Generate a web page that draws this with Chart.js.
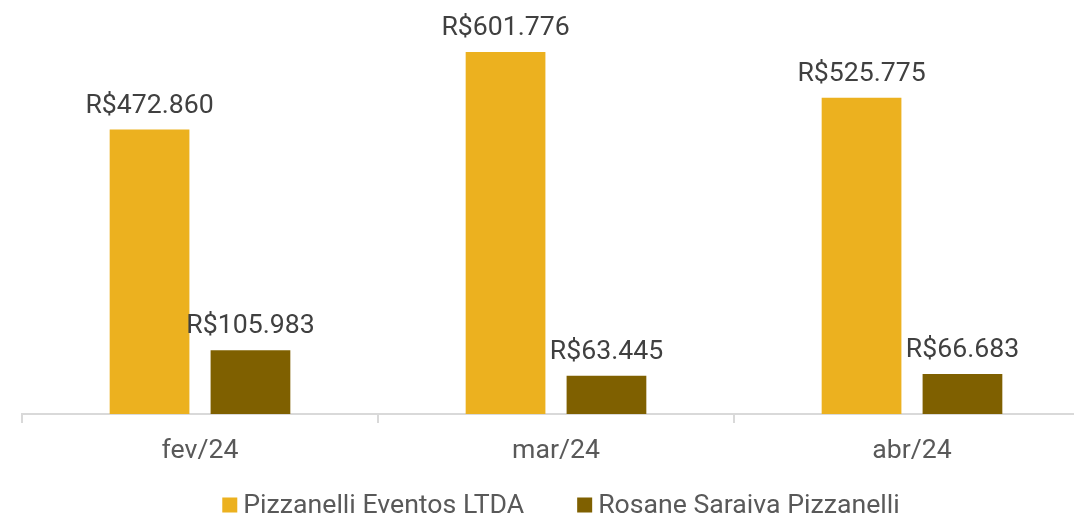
<!DOCTYPE html>
<html>
<head>
<meta charset="utf-8">
<script src="https://cdn.jsdelivr.net/npm/chart.js@4.4.1/dist/chart.umd.min.js"></script>
<style>
  html, body { margin: 0; padding: 0; background: #fff; overflow: hidden; width: 1074px; height: 519px; }
  #wrap { position: absolute; left: 0; top: 0; width: 1112px; height: 519px; }
</style>
</head>
<body>
<div id="wrap"><canvas id="c" width="1112" height="519"></canvas></div>
<script>
const categories = ['fev/24', 'mar/24', 'abr/24'];
const seriesNames = ['Pizzanelli Eventos LTDA', 'Rosane Saraiva Pizzanelli'];
const pizzanelliEventos = [472860, 601776, 525775];
const rosaneSaraiva = [105983, 63445, 66683];
const seriesColors = ['#ECB11F', '#7F6000'];

const FONT_SIZE = 26.67;
const fmt = v => 'R$' + v.toLocaleString('pt-BR');

const valueLabels = {
  id: 'valueLabels',
  afterDatasetsDraw(chart) {
    const ctx = chart.ctx;
    ctx.save();
    ctx.font = FONT_SIZE + 'px Roboto';
    ctx.fillStyle = '#404040';
    ctx.textAlign = 'center';
    ctx.textBaseline = 'alphabetic';
    chart.data.datasets.forEach((ds, i) => {
      chart.getDatasetMeta(i).data.forEach((bar, j) => {
        ctx.fillText(fmt(ds.data[j]), bar.x, bar.y - 17);
      });
    });
    ctx.restore();
  }
};

const bottomLegend = {
  id: 'bottomLegend',
  afterDraw(chart) {
    const ctx = chart.ctx;
    ctx.save();
    ctx.font = FONT_SIZE + 'px Roboto';
    ctx.textBaseline = 'middle';
    ctx.textAlign = 'left';
    const box = 15, gapText = 6, gapItem = 53, cy = 505, center = 561;
    const items = chart.data.datasets.map(ds => ({ text: ds.label, color: ds.backgroundColor, w: ctx.measureText(ds.label).width }));
    let total = 0;
    items.forEach((it, i) => { total += box + gapText + it.w + (i < items.length - 1 ? gapItem : 0); });
    let x = center - total / 2;
    items.forEach(it => {
      ctx.fillStyle = it.color;
      ctx.fillRect(x, cy - box / 2, box, box);
      ctx.fillStyle = '#595959';
      ctx.fillText(it.text, x + box + gapText, cy + 1);
      x += box + gapText + it.w + gapItem;
    });
    ctx.restore();
  }
};

new Chart(document.getElementById('c'), {
  type: 'bar',
  data: {
    labels: categories,
    datasets: [
      { label: seriesNames[0], data: pizzanelliEventos, backgroundColor: seriesColors[0] },
      { label: seriesNames[1], data: rosaneSaraiva, backgroundColor: seriesColors[1] }
    ]
  },
  options: {
    responsive: false,
    animation: false,
    devicePixelRatio: 1,
    categoryPercentage: 0.567,
    barPercentage: 0.79,
    layout: { padding: { left: 22, right: 22, top: 23, bottom: 45 } },
    plugins: {
      tooltip: { enabled: false },
      legend: { display: false }
    },
    scales: {
      x: {
        offset: true,
        grid: { display: true, offset: true, drawOnChartArea: false, tickLength: 9, color: '#d9d9d9', lineWidth: 2 },
        border: { display: true, color: '#d9d9d9', width: 2 },
        ticks: { font: { family: 'Roboto', size: FONT_SIZE }, color: '#595959', padding: 12 },
        afterFit(scale) { scale.height = 60; }
      },
      y: {
        display: false,
        min: 0,
        max: 650000
      }
    }
  },
  plugins: [valueLabels, bottomLegend]
});
</script>
</body>
</html>
